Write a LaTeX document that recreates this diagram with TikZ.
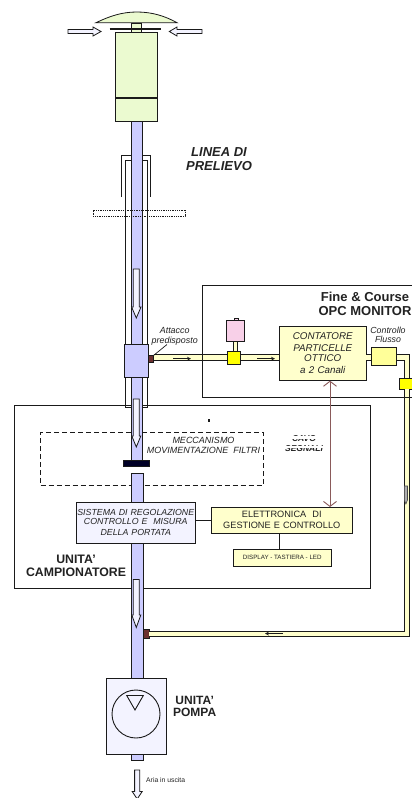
\documentclass[tikz,border=0pt]{standalone}
\usepackage{fontspec}
\setmainfont{Liberation Sans}
\usetikzlibrary{arrows.meta}
\definecolor{tubeblue}{HTML}{CCCCFF}
\definecolor{pale}{HTML}{FFFFCC}
\definecolor{midyel}{HTML}{FFFF99}
\definecolor{valveyel}{HTML}{FFFF00}
\definecolor{lav}{HTML}{F3F3FF}
\definecolor{headgreen}{HTML}{EBFAD0}
\definecolor{pinkv}{HTML}{F8D0E8}
\definecolor{brownc}{HTML}{6B2F2F}
\definecolor{cable}{HTML}{8A5A5A}
\definecolor{txt}{HTML}{222222}
\definecolor{ink}{HTML}{1A1A1A}
\newcommand{\fs}[1]{\fontsize{#1}{#1}\selectfont}
% name, style, x1, y1, x2, y2, text
\newcommand{\boxat}[7]{%
  \pgfmathsetmacro{\bw}{#5-#3}\pgfmathsetmacro{\bh}{#6-#4}%
  \pgfmathsetmacro{\bx}{(#3+#5)/2}\pgfmathsetmacro{\by}{(#4+#6)/2}%
  \node[rectangle,inner sep=0pt,outer sep=0pt,minimum width=\bw pt,minimum height=\bh pt,#2] (#1) at (\bx,\by) {#7};}
% x-centre, top, head start, tip, shaft half width, head half width
\newcommand{\hollowdown}[6]{%
  \draw[hollow] ({#1-#5},#2) -- ({#1+#5},#2) -- ({#1+#5},#3) -- ({#1+#6},#3) -- (#1,#4) -- ({#1-#6},#3) -- ({#1-#5},#3) -- cycle;}
\tikzset{
  hollow/.style={draw=ink,fill=lav,line width=0.8pt,line join=miter},
  pipe/.style={draw=ink,line width=1pt,double=pale,double distance=4.6pt},
  flowtip/.style={draw=ink,line width=1.2pt,-{Stealth[open,length=4pt,width=4pt,line width=0.6pt]}},
  sleeve/.style={draw=ink,line width=0.8pt},
  lbl/.style={align=center,inner sep=0pt,text=txt},
}
\begin{document}
\begin{tikzpicture}[x=1pt,y=-1pt]
\useasboundingbox (0,0) rectangle (412,798);
\clip (0,0) rectangle (412,798);
\fill[white] (0,0) rectangle (412,798);

% ---- sampler unit frame
\boxat{unit}{draw=ink,line width=0.9pt}{14}{405}{370}{588}{}
\draw[ink,line width=1pt] (370.6,405) -- (370.6,588.5) -- (14,588.5);
\boxat{mech}{draw=ink,dash pattern=on 5pt off 3pt,line width=0.9pt}{40.5}{432}{263}{485}{}
\fill[ink] (208,418.5) rectangle (210,422);

% ---- main tube
\boxat{tubeA}{fill=tubeblue,draw=ink,line width=0.8pt}{131}{121}{142.5}{344}{}
\boxat{tubeB}{fill=tubeblue,draw=ink,line width=0.8pt}{131}{377}{142.5}{460}{}
\boxat{tubeC}{fill=tubeblue,draw=ink,line width=0.8pt}{131}{473}{143}{678}{}

% ---- outer sleeves
\draw[sleeve] (121.7,197) -- (121.7,155) -- (131,155);
\draw[sleeve] (142.5,155) -- (150,155) -- (150,197);
\draw[sleeve] (131,160.7) -- (125.5,160.7) -- (125.5,344);
\draw[sleeve] (142.5,160.7) -- (147.3,160.7) -- (147.3,344);
\draw[sleeve] (125.7,377) -- (125.7,407) -- (131,407);
\draw[sleeve] (147.3,377) -- (147.3,407) -- (142.5,407);

% ---- head
\draw[draw=ink,line width=0.8pt,fill=headgreen] (96,22.7) .. controls (110,16) and (122,12) .. (137,12) .. controls (152,12) and (165,16) .. (177,22.7) -- cycle;
\boxat{neck}{fill=headgreen,draw=ink,line width=0.8pt}{131}{23}{141.5}{33}{}
\draw[ink,line width=2pt] (109.5,29) -- (161,29);
\boxat{head}{fill=headgreen,draw=ink,line width=0.9pt}{115}{32.5}{157}{121}{}
\draw[ink,line width=1.3pt] (head.west |- 0,98) -- (head.east |- 0,98);
\draw[hollow] (68,29.5) -- (93,29.5) -- (93,27) -- (101,31.5) -- (93,36) -- (93,33.5) -- (68,33.5) -- cycle;
\draw[hollow] (202,29.5) -- (177,29.5) -- (177,27) -- (169.3,31.5) -- (177,36) -- (177,33.5) -- (202,33.5) -- cycle;

% ---- dotted support
\draw[ink,densely dotted,line width=0.8pt] (93,210.7) rectangle (185,216);

% ---- hollow flow arrows in the tube
\hollowdown{136.3}{269}{307}{318}{3}{4.7}
\hollowdown{136.3}{399}{436}{447}{3}{4.5}
\hollowdown{136.3}{579.5}{615}{627.5}{3}{4.5}

% ---- filter
\boxat{filter}{fill=black!85!blue,draw=ink,line width=0.6pt}{123.5}{460}{149.5}{466.5}{}
\fill[white] (131,467.5) rectangle (143,472.4);

% ---- central block and pipe attachments
\boxat{block}{fill=tubeblue,draw=ink,line width=0.9pt}{124.5}{344.5}{148.5}{377}{}
\boxat{attA}{fill=brownc,draw=ink,line width=0.6pt}{148.5}{355.5}{153.5}{362.5}{}
\boxat{attB}{fill=brownc,draw=ink,line width=0.6pt}{143}{629.5}{149}{638.5}{}

% ---- counter, valve, flow control
\boxat{counter}{fill=pale,draw=ink,line width=0.9pt,lbl,font=\fs{9.8}\itshape,text width=85pt}{279.3}{326}{366.2}{380.7}{CONTATORE\\[2.2pt]PARTICELLE\\[0.5pt]OTTICO\\[2.2pt]a 2 Canali}
\boxat{flow}{fill=midyel,draw=ink,line width=0.9pt}{371.3}{347}{396.7}{365}{}
\boxat{valve}{fill=valveyel,draw=ink,line width=0.8pt}{227.3}{351}{240.7}{364}{}
\boxat{valveR}{fill=valveyel,draw=ink,line width=0.8pt}{399.3}{378}{418}{389}{}
\coordinate (cornerT) at (407,357.5);
\coordinate (cornerB) at (407,634);

\draw[pipe] (attA.east |- valve.west) -- (valve.west);
\draw[pipe] (valve.east) -- (counter.west |- valve.east);
\draw[pipe] (counter.east |- cornerT) -- (flow.west |- cornerT);
\draw[pipe] (flow.east |- cornerT) -- (cornerT) -- (valveR.north -| cornerT);
\draw[pipe] (valveR.south -| cornerT) -- (cornerB) -- (attB.east |- cornerB);

\boxat{stem}{fill=pale,draw=ink,line width=0.8pt}{233}{341}{237.3}{351}{}
\boxat{pink}{fill=pinkv,draw=ink,line width=0.8pt}{226.8}{320.7}{244}{341}{}
\boxat{nub}{fill=pinkv,draw=ink,line width=0.6pt}{234}{318}{238}{320.7}{}

% ---- small flow arrows
\coordinate (fa1) at (173,358.7); \coordinate (fa2) at (191,358.7);
\coordinate (fb1) at (257,358.7); \coordinate (fb2) at (275,358.7);
\coordinate (fd1) at (283,633.5); \coordinate (fd2) at (265,633.5);
\draw[flowtip] (fa1) -- (fa2);
\draw[flowtip] (fb1) -- (fb2);
\draw[flowtip] (fd1) -- (fd2);
\draw[draw=ink!80,fill=ink!35,line width=0.6pt] (404.3,486) -- (407.5,486) -- (407.5,500) -- (405.9,504) -- (404.3,500) -- cycle;

% ---- monitor frame
\boxat{monitor}{draw=ink,line width=0.9pt}{202.7}{285}{430}{397}{}

% ---- attach leader
\coordinate (leadtop) at (167,344.5);
\draw[ink,line width=0.7pt] (attA.north east) -- (leadtop);

% ---- regulation and electronics
\boxat{reg}{fill=lav,draw=ink,line width=0.9pt,lbl,font=\fs{8.8}\itshape,text width=118pt}{76.5}{502}{195}{543}{SISTEMA DI REGOLAZIONE\\[0.2pt]CONTROLLO E\ \ MISURA\\[2.2pt]DELLA PORTATA}
\boxat{elec}{fill=pale,draw=ink,line width=0.9pt,lbl,font=\fs{9.2},text width=140pt}{211}{507}{352.5}{533}{ELETTRONICA\ \ DI\\[2pt]GESTIONE E CONTROLLO}
\boxat{disp}{fill=pale,draw=ink,line width=0.9pt,lbl,font=\fs{6.2}}{233.5}{549}{331}{566}{DISPLAY - TASTIERA - LED}
\draw[ink,line width=0.9pt] (reg.east |- elec.west) -- (elec.west);
\draw[ink,line width=0.9pt] (disp.north -| 279,0) -- (elec.south -| 279,0);

% ---- signal cable
\draw[cable,line width=0.9pt,{Straight Barb[length=5pt,width=13pt,line width=0.9pt]}-{Straight Barb[length=5pt,width=13pt,line width=0.9pt]}] (counter.south -| 330,0) -- (elec.north -| 330,0);

% ---- pump
\boxat{pump}{fill=lav,draw=ink,line width=0.9pt}{106.7}{678}{166}{754.3}{}
\boxat{pumpout}{fill=tubeblue,draw=ink,line width=0.8pt}{131}{754.3}{143}{760}{}
\node[circle,draw=ink,line width=0.9pt,minimum size=48pt,inner sep=0pt] (rotor) at (136,714) {};
\draw[ink,line width=0.9pt] (126.7,695.5) -- (143.3,695.5) -- (135,710) -- cycle;
\hollowdown{137.2}{770}{791.5}{799}{2.6}{5}

% ---- labels
\node[lbl,font=\fs{13}\bfseries\itshape] (lpre) at (219,159) {LINEA DI\\[1.5pt]PRELIEVO};
\node[lbl,font=\fs{8.9}\itshape] (latt) at (174.7,336.3) {Attacco\\[1.4pt]predisposto};
\node[lbl,font=\fs{8.8}\itshape] (lflow) at (388,334.5) {Controllo\\[0.2pt]Flusso};
\node[lbl,font=\fs{13}\bfseries] (lmon) at (365,304) {Fine \& Course\\[1pt]OPC MONITOR};
\node[lbl,font=\fs{9}\itshape] (lmec) at (203.5,445.7) {MECCANISMO\\[1pt]MOVIMENTAZIONE\ \ FILTRI};
\node[lbl,font=\fs{8.5}\bfseries\itshape] (lcav) at (304,444) {CAVO\\[1.5pt]SEGNALI};
\fill[white] (285,436.2) rectangle (325,439);
\fill[white] (285,445.8) rectangle (325,448);
\node[lbl,font=\fs{12.3}\bfseries] (lcam) at (76,566.3) {UNITA'\\[0.7pt]CAMPIONATORE};
\node[lbl,font=\fs{12}\bfseries] (lpom) at (194.7,706.3) {UNITA'\\[0.7pt]POMPA};
\node[lbl,font=\fs{6.8},anchor=west] (laria) at (146,779.7) {Aria in uscita};
\end{tikzpicture}
\end{document}
